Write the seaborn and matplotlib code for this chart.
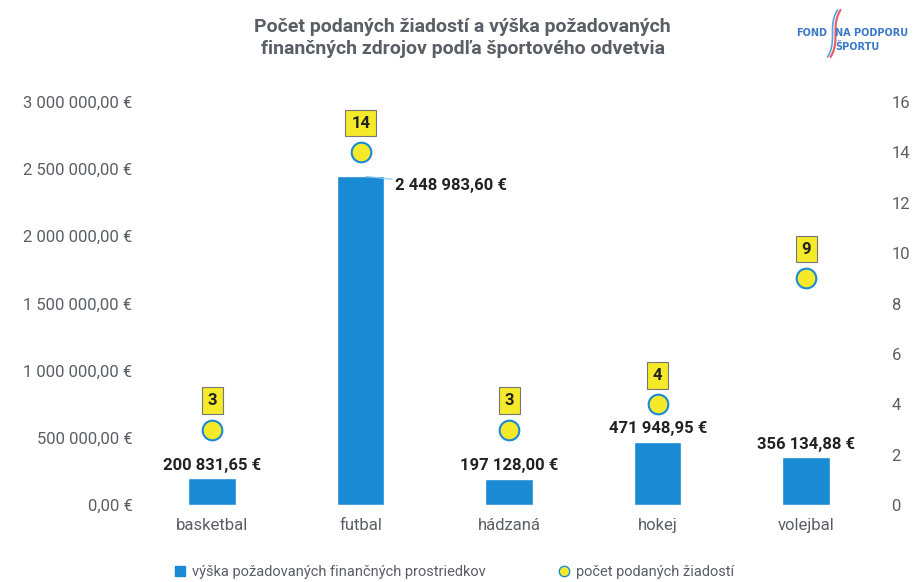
import numpy as np
import pandas as pd
import matplotlib
matplotlib.use('Agg')
import matplotlib.pyplot as plt
import seaborn as sns
from matplotlib.ticker import FuncFormatter
from matplotlib.lines import Line2D

sports = ['basketbal', 'futbal', 'hádzaná', 'hokej', 'volejbal']
amounts = [200831.65, 2448983.60, 197128.00, 471948.95, 356134.88]
counts = [3, 14, 3, 4, 9]

TITLE = 'Počet podaných žiadostí a výška požadovaných\nfinančných zdrojov podľa športového odvetvia'
LEG_BAR = 'výška požadovaných finančných prostriedkov'
LEG_DOT = 'počet podaných žiadostí'

BLUE = '#1a8ad4'
YELLOW = '#f4ea2a'
GREY = '#5a5f66'
LOGO_BLUE = '#3a78c9'


def eur(v, pos=None):
    s = f'{v:,.2f}'.replace(',', ' ').replace('.', ',')
    return s + ' €'


sns.set_style('white')
plt.rcParams['font.family'] = ['Roboto', 'DejaVu Sans']

df = pd.DataFrame({'sport': sports, 'amount': amounts, 'count': counts})

fig = plt.figure(figsize=(9.2, 5.82), dpi=100)
ax = fig.add_axes([0.15, 0.132, 0.807, 0.693])
sns.barplot(data=df, x='sport', y='amount', color=BLUE, width=0.32,
            saturation=1, ax=ax)
ax.set_ylim(0, 3000000)
ax.set_yticks(np.arange(0, 3000001, 500000))
ax.yaxis.set_major_formatter(FuncFormatter(eur))
ax.set_xlabel('')
ax.set_ylabel('')
ax.set_xlim(-0.5, 4.5)
ax.tick_params(axis='y', length=0, labelsize=12, colors=GREY, pad=4)
ax.tick_params(axis='x', length=0, labelsize=12, colors=GREY, pad=9)
sns.despine(ax=ax, left=True, bottom=True)

ax2 = ax.twinx()
sns.scatterplot(data=df, x='sport', y='count', ax=ax2, s=200, color=YELLOW,
                edgecolor=BLUE, linewidth=1.5, zorder=5, legend=False)
ax2.set_ylim(0, 16)
ax2.set_yticks(np.arange(0, 17, 2))
ax2.set_ylabel('')
ax2.tick_params(axis='y', length=0, labelsize=12, colors=GREY, pad=8)
sns.despine(ax=ax2, left=True, bottom=True, right=True)

# value labels on bars
for i, v in enumerate(amounts):
    if v > 2000000:
        ax.annotate(eur(v), xy=(i, v), xytext=(25, -7),
                    textcoords='offset points', ha='left', va='center',
                    fontsize=12, fontweight='bold', color='#222222',
                    arrowprops=dict(arrowstyle='-', color='#8cc8ee', lw=0.9,
                                    shrinkA=0, shrinkB=4))
    else:
        ax.annotate(eur(v), xy=(i, v), xytext=(0, 4), textcoords='offset points',
                    ha='center', va='bottom', fontsize=12, fontweight='bold',
                    color='#222222')

# count labels in yellow boxes
for i, c in enumerate(counts):
    ax2.annotate(str(c), xy=(i, c), xytext=(0, 21), textcoords='offset points',
                 ha='center', va='center', fontsize=12, fontweight='bold',
                 color='#222222',
                 bbox=dict(boxstyle='square,pad=0.35', fc=YELLOW, ec='#777777', lw=0.8))

fig.text(0.503, 0.935, TITLE, ha='center', va='center', fontsize=14,
         fontweight='bold', color=GREY, linespacing=1.3)

# logo
fig.text(0.899, 0.943, 'FOND', ha='right', va='center', fontsize=7,
         fontweight='bold', color=LOGO_BLUE, family='DejaVu Sans')
fig.text(0.908, 0.943, 'NA PODPORU', ha='left', va='center', fontsize=7,
         fontweight='bold', color=LOGO_BLUE, family='DejaVu Sans')
fig.text(0.908, 0.92, 'ŠPORTU', ha='left', va='center', fontsize=7,
         fontweight='bold', color=LOGO_BLUE, family='DejaVu Sans')
u = np.linspace(0, 1, 60)
xs = 834 - 5 * (2 * u - 1) ** 3
ys = 582 - (10 + 47 * u)
fig.add_artist(Line2D((xs + 1.5) / 920, ys / 582, transform=fig.transFigure,
                      color='#e8606b', lw=1.6))
fig.add_artist(Line2D((xs - 1.5) / 920, ys / 582, transform=fig.transFigure,
                      color='#5aa0e0', lw=1.2))

handles = [Line2D([], [], marker='s', ls='', color=BLUE, markersize=6.5),
           Line2D([], [], marker='o', ls='', markerfacecolor=YELLOW,
                  markeredgecolor=BLUE, markersize=7.5)]
fig.legend(handles, [LEG_BAR, LEG_DOT], loc='center', bbox_to_anchor=(0.493, 0.017),
           ncol=2, frameon=False, fontsize=10.5, labelcolor=GREY,
           handlelength=1.0, handletextpad=0.3, columnspacing=4.9)

fig.savefig('out.png', dpi=100)
